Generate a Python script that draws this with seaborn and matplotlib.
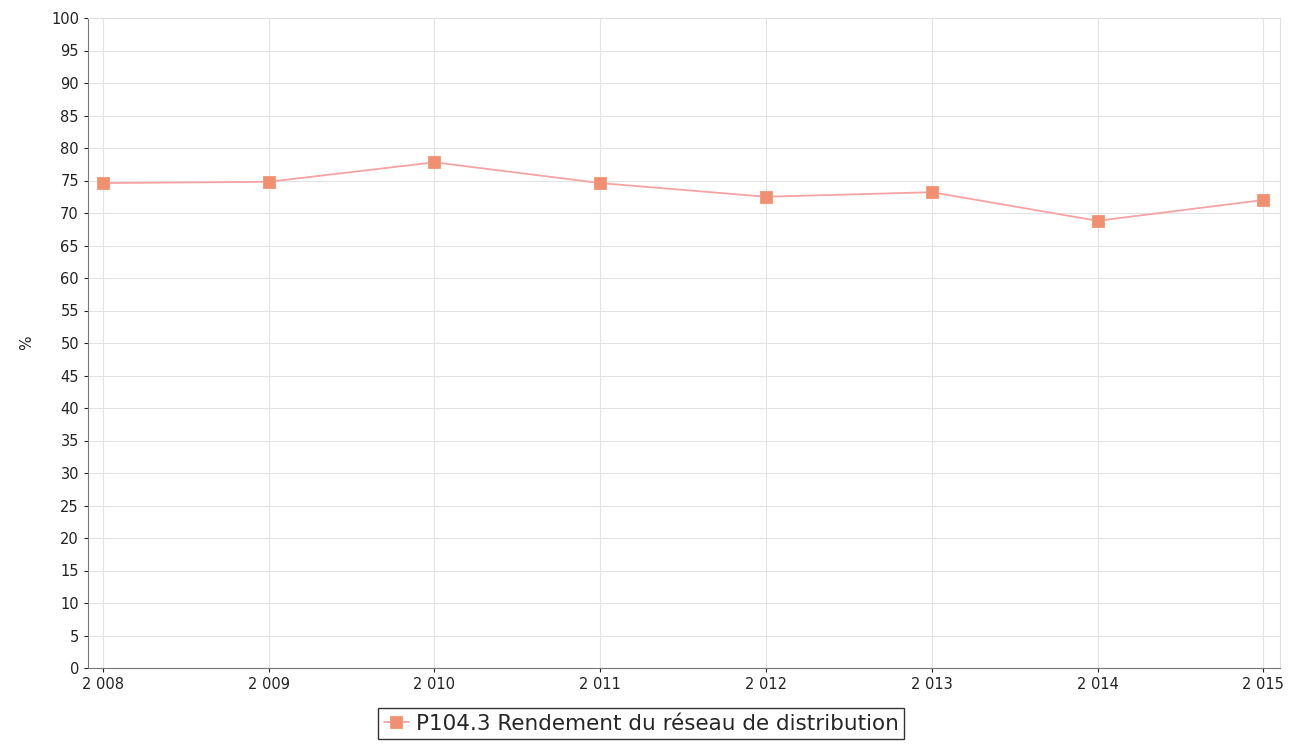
import pandas as pd
import numpy as np
import seaborn as sns
import matplotlib.pyplot as plt

years = [2008, 2009, 2010, 2011, 2012, 2013, 2014, 2015]
rendement = [74.6, 74.8, 77.8, 74.6, 72.5, 73.2, 68.8, 72.0]
year_labels = ['2 008', '2 009', '2 010', '2 011', '2 012', '2 013', '2 014', '2 015']
serie_name = 'P104.3 Rendement du réseau de distribution'

df = pd.DataFrame({'annee': years, 'valeur': rendement})

sns.set_style('white')
plt.rcParams['font.family'] = ['DejaVu Sans']

fig = plt.figure(figsize=(13.01, 7.52), dpi=100)
ax = fig.add_axes([88 / 1301, 84 / 752, 1192 / 1301, 650 / 752])

sns.lineplot(data=df, x='annee', y='valeur', ax=ax, color='#f5a3a3', linewidth=1.3,
             marker='s', markersize=8, markerfacecolor='#f09070', markeredgecolor='#f0a080',
             label=serie_name)

ax.set_xlim(2007.91, 2015.1)
ax.set_ylim(0, 100)
ax.set_yticks(np.arange(0, 101, 5))
ax.set_xticks(years)
ax.set_xticklabels(year_labels)
ax.grid(True, color='#e3e3e3', linewidth=0.8)
ax.tick_params(axis='both', labelsize=10.5, colors='#222222', length=3, direction='out',
               left=True, bottom=True)
ax.set_xlabel('')
ax.set_ylabel('%', fontsize=11, rotation=90, labelpad=12)
for s in ['top', 'right']:
    ax.spines[s].set_color('#e0e0e0')
for s in ['left', 'bottom']:
    ax.spines[s].set_color('#777777')

leg = ax.legend(loc='upper center', bbox_to_anchor=(0.464, -0.062), frameon=True, fancybox=False,
                fontsize=15.5, handlelength=1.2, handletextpad=0.3, borderpad=0.25,
                borderaxespad=0)
leg.get_frame().set_edgecolor('black')
leg.get_frame().set_linewidth(1.0)

plt.savefig('out.png', dpi=100)
